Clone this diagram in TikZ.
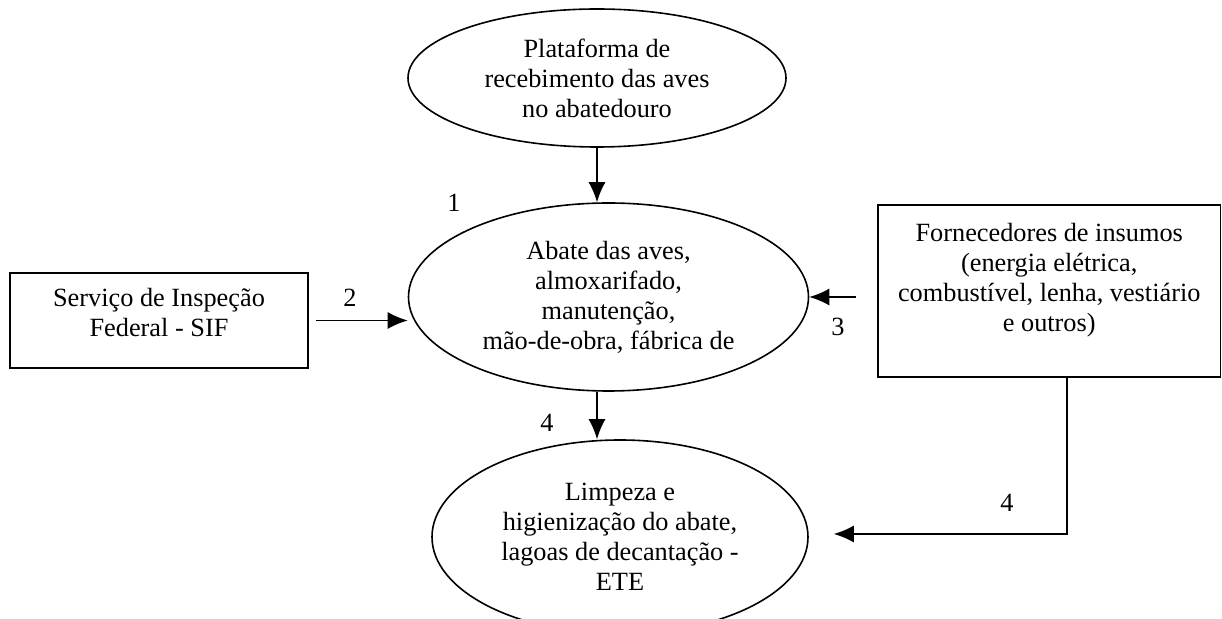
\documentclass[tikz,border=0pt]{standalone}
\usepackage{fontspec}
\setmainfont{Liberation Serif}
\usetikzlibrary{shapes.geometric,arrows.meta,positioning}

\begin{document}
\begin{tikzpicture}[x=0.5pt, y=-0.5pt, font=\fontsize{13.15}{15}\selectfont,
        arr/.style={thick, -{Latex[length=10pt, width=8.5pt]}}]
        \useasboundingbox (0,0) rectangle (1222,619);

        \begin{scope}[every node/.style={ellipse, thick, draw, align=center, inner sep=0pt}]
        \node[minimum width=189pt, minimum height=69pt] (plat) at (597,78) {Plataforma de\\recebimento das aves\\no abatedouro};
        \node[minimum width=200pt, minimum height=94pt] (abate) at (608.5,297) {Abate das aves,\\almoxarifado,\\manuten\c{c}\~ao,\\m\~ao-de-obra, f\'abrica de};
        \node[minimum width=188pt, minimum height=97pt] (limp) at (620,537) {Limpeza e\\higieniza\c{c}\~ao do abate,\\lagoas de decanta\c{c}\~ao -\\ETE};
        \end{scope}

        \begin{scope}[every node/.style={rectangle, thick, draw, inner sep=0pt}]
        \node[minimum width=149pt, minimum height=47.5pt] (sif) at (159,320.5) {};
        \node[minimum width=171.25pt, minimum height=86pt] (forn) at (1049.25,291) {};
        \end{scope}

        \node[align=center, inner sep=0pt, below=8pt of sif.north] (siftext) {Servi\c{c}o de Inspe\c{c}\~ao\\Federal - SIF};
        \node[align=center, inner sep=0pt, below=9.5pt of forn.north] (forntext) {Fornecedores de insumos\\(energia el\'etrica,\\combust\'ivel, lenha, vesti\'ario\\e outros)};

        \node (n1) at (454,203) {1};
        \node (n2) at (350,298) {2};
        \node (n3) at (838,327) {3};
        \node (n4a) at (547,423) {4};
        \node (n4b) at (1007,503) {4};

        \draw [arr] (plat.south) -- (plat.south |- abate.north);
        \draw [arr] (abate.south -| plat.south) -- (plat.south |- limp.north);
        \draw [arr] ([xshift=3.5pt]sif.east) -- (sif.east -| abate.west);
        \draw [arr] ([xshift=-10.5pt]forn.west |- abate.east) -- (abate.east);
        \draw [arr] ([xshift=8.9pt]forn.south) |- ([xshift=12.5pt, yshift=1.5pt]limp.east);
    \end{tikzpicture}
\end{document}
